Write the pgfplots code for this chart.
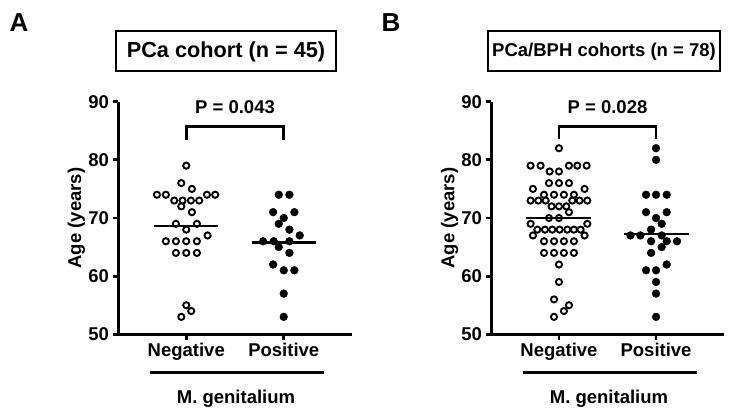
\documentclass[border=0pt]{standalone}
\usepackage{pgfplots}
\pgfplotsset{compat=1.18}
\usepackage{fontspec}
\setmainfont{Liberation Sans}

\pgfplotsset{
  prism/.style={
    scale only axis,
    anchor=south west,
    height=232.6pt,
    xmin=0.3, xmax=2.7,
    ymin=50, ymax=90,
    axis lines=left,
    axis line style={-, line width=3pt},
    xtick={1,2}, xticklabels={Negative,Positive},
    ytick={50,60,70,80,90},
    tick align=outside,
    major tick length=5.5pt,
    tick style={line width=2.8pt, black},
    tick label style={font=\bfseries\fontsize{18.5}{20}\selectfont},
    /pgf/number format/assume math mode=true,
    ylabel={Age (years)},
    every axis y label/.style={at={(axis description cs:-0.178,0.5)}, rotate=90, anchor=center},
    ylabel style={font=\bfseries\fontsize{18.5}{20}\selectfont},
    clip=false,
  },
  neg/.style={only marks, mark=o, mark size=3.1pt, line width=1.9pt, black},
  pos/.style={only marks, mark=*, mark size=3.9pt, black},
  meanline/.style={black, line width=2.4pt, no marks},
  bracket/.style={black, line width=2.8pt, no marks},
}

\begin{document}
\begin{tikzpicture}
\useasboundingbox (0,0) rectangle (743pt,417pt);

% Panel A
\begin{axis}[prism, at={(118pt,82.7pt)}, width=234pt]
\addplot[neg] coordinates {
  (1,79) (0.949,76) (1.058,75)
  (0.699,74) (0.791,74) (1.212,74) (1.297,74)
  (0.877,73) (0.962,73) (1.048,73) (1.133,73)
  (0.949,72) (1.058,71) (0.894,69) (1.109,69) (1,68) (1.219,67)
  (0.791,66) (0.894,66) (1,66) (1.109,66)
  (0.894,64) (1,64) (1.109,64)
  (1,55) (1.051,54) (0.949,53)
};
\addplot[pos] coordinates {
  (1.949,74) (2.058,74) (1.891,71) (2.109,71) (2,70) (1.949,69) (2.058,68) (2.164,67)
  (1.788,66) (1.897,66) (2.058,66) (1.949,65) (2.058,64) (1.891,62) (2,61) (2.109,61)
  (2,57) (2,53)
};
\addplot[meanline] coordinates {(0.67,68.6) (1.33,68.6)};
\addplot[meanline] coordinates {(1.67,65.8) (2.33,65.8)};
\addplot[bracket] coordinates {(1,83.4) (1,85.7) (2,85.7) (2,83.4)};
\node[anchor=base, font=\bfseries\fontsize{18.5}{20}\selectfont] at (axis cs:1.5,88.0) {P = 0.043};
\end{axis}

% Panel B
\begin{axis}[prism, at={(491pt,82.7pt)}, width=233pt]
\addplot[neg] coordinates {
  (1,82)
  (0.708,79) (0.811,79) (1.103,79) (1.189,79) (1.285,79)
  (0.904,78) (1,78)
  (0.897,76) (1,76) (1.103,76)
  (0.732,75) (1.264,75)
  (0.846,74) (0.949,74) (1.051,74) (1.154,74)
  (0.708,73) (0.787,73) (0.863,73) (1.137,73) (1.213,73) (1.292,73)
  (0.924,72) (1,72) (1.076,72)
  (1.103,71)
  (0.897,70) (1,70)
  (0.708,69) (1.292,69)
  (0.777,68) (0.856,68) (0.931,68) (1.007,68) (1.086,68) (1.154,68) (1.223,68)
  (0.732,67) (1.264,67)
  (0.846,66) (0.949,66) (1.051,66) (1.154,66)
  (0.846,64) (0.949,64) (1.051,64) (1.154,64)
  (1,62) (1,59) (0.949,56) (1.103,55) (1.051,54) (0.949,53)
};
\addplot[pos] coordinates {
  (2,82) (2,80) (1.897,74) (2,74) (2.110,74) (1.897,71) (2.110,71) (2,70)
  (2.058,69) (1.949,68) (1.736,67) (1.839,67) (2.058,67)
  (1.949,66) (2.110,66) (2.216,66) (2.058,65) (1.949,64) (2.110,62)
  (1.897,61) (2,61) (2,59) (2,57) (2,53)
};
\addplot[meanline] coordinates {(0.665,70.0) (1.335,70.0)};
\addplot[meanline] coordinates {(1.665,67.25) (2.335,67.25)};
\addplot[bracket] coordinates {(1,83.6) (1,85.7) (2,85.7) (2,83.6)};
\node[anchor=base, font=\bfseries\fontsize{18.5}{20}\selectfont] at (axis cs:1.5,88.0) {P = 0.028};
\end{axis}

% titles and panel letters
\node[font=\bfseries\fontsize{26}{28}\selectfont] at (19pt,394.5pt) {A};
\node[font=\bfseries\fontsize{26}{28}\selectfont] at (391pt,394.5pt) {B};
\node[draw, line width=2pt, minimum width=220pt, minimum height=40pt, inner sep=0pt,
      font=\bfseries\fontsize{21.7}{24}\selectfont] at (226pt,365.5pt) {PCa cohort (n = 45)};
\node[draw, line width=2pt, minimum width=232pt, minimum height=40pt, inner sep=0pt,
      font=\bfseries\fontsize{18.5}{20}\selectfont] at (604pt,365.5pt) {PCa/BPH cohorts (n = 78)};

% group labels under the x axes
\draw[line width=2.8pt] (150pt,44.3pt) -- (324pt,44.3pt);
\node[anchor=base, font=\bfseries\fontsize{18.5}{20}\selectfont] at (236pt,13.7pt) {M. genitalium};
\draw[line width=2.8pt] (523pt,44.3pt) -- (697pt,44.3pt);
\node[anchor=base, font=\bfseries\fontsize{18.5}{20}\selectfont] at (609pt,13.7pt) {M. genitalium};
\end{tikzpicture}
\end{document}
